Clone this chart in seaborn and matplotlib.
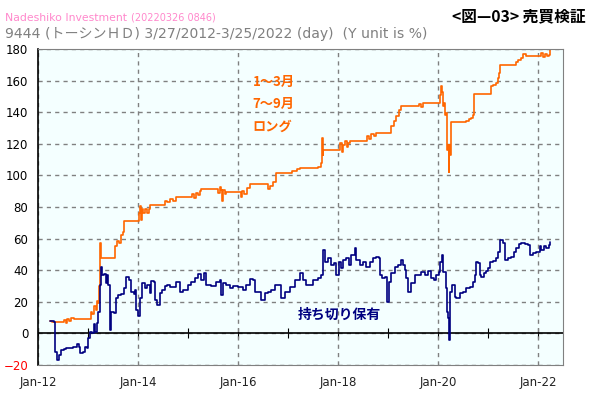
import seaborn as sns
import pandas as pd
import numpy as np
from matplotlib import pyplot as plt

# chart values (t = decimal year, v = %)
long_t = [2012.24, 2012.27, 2012.49, 2012.52, 2012.55, 2012.58, 2012.62, 2012.66, 2012.72, 2012.75,
          2013.00, 2013.05, 2013.08, 2013.12, 2013.15, 2013.18, 2013.20, 2013.22, 2013.23, 2013.24,
          2013.25, 2013.50, 2013.54, 2013.58, 2013.62, 2013.65, 2013.70, 2013.72, 2013.99, 2014.02,
          2014.04, 2014.05, 2014.07, 2014.10, 2014.13, 2014.17, 2014.22, 2014.24, 2014.50, 2014.53,
          2014.58, 2014.64, 2014.70, 2014.75, 2015.04, 2015.08, 2015.12, 2015.15, 2015.19, 2015.23,
          2015.26, 2015.56, 2015.60, 2015.63, 2015.66, 2015.67, 2015.70, 2015.73, 2015.76, 2016.01,
          2016.05, 2016.08, 2016.12, 2016.17, 2016.23, 2016.56, 2016.60, 2016.64, 2016.70, 2016.76,
          2017.03, 2017.08, 2017.13, 2017.18, 2017.24, 2017.56, 2017.60, 2017.65, 2017.68, 2017.69,
          2017.70, 2018.01, 2018.04, 2018.07, 2018.10, 2018.13, 2018.17, 2018.20, 2018.24, 2018.53,
          2018.58, 2018.62, 2018.66, 2018.71, 2018.76, 2019.01, 2019.06, 2019.11, 2019.16, 2019.21,
          2019.26, 2019.56, 2019.61, 2019.66, 2019.70, 2019.75, 2020.03, 2020.04, 2020.06, 2020.07,
          2020.09, 2020.11, 2020.13, 2020.15, 2020.17, 2020.18, 2020.20, 2020.21, 2020.22, 2020.23,
          2020.25, 2020.51, 2020.56, 2020.61, 2020.66, 2020.69, 2020.71, 2021.01, 2021.05, 2021.10,
          2021.15, 2021.19, 2021.22, 2021.24, 2021.51, 2021.55, 2021.60, 2021.65, 2021.70, 2021.76,
          2022.01, 2022.05, 2022.09, 2022.13, 2022.17, 2022.21, 2022.24]
long_v = [7.8, 7.0, 7.0, 8.5, 6.5, 9.0, 8.0, 9.5, 9.0, 9.0,
          9.0, 13.5, 12.0, 17.5, 15.0, 20.5, 19.0, 30.0, 41.0, 57.5,
          47.5, 47.5, 55.0, 58.5, 57.5, 62.0, 64.0, 71.0, 71.0, 76.0,
          80.5, 72.0, 79.0, 76.0, 78.5, 76.0, 79.0, 81.5, 81.5, 84.0,
          83.0, 85.0, 84.0, 86.5, 86.5, 88.5, 85.5, 89.0, 87.5, 90.0,
          91.4, 91.4, 89.0, 92.5, 91.0, 83.5, 90.5, 88.0, 89.7, 89.7,
          86.5, 90.0, 88.0, 92.0, 94.3, 94.3, 91.4, 93.0, 96.0, 101.3,
          101.3, 102.5, 103.0, 104.0, 104.5, 104.5, 105.5, 107.6, 123.5, 113.0,
          115.8, 115.8, 120.3, 115.0, 119.5, 121.5, 118.0, 120.5, 121.9, 121.9,
          125.0, 123.0, 126.5, 125.0, 127.0, 127.0, 131.1, 134.3, 137.5, 141.6,
          144.1, 144.1, 145.5, 143.0, 146.0, 145.8, 145.8, 151.1, 156.3, 153.0,
          143.7, 146.0, 138.4, 139.5, 131.0, 116.3, 119.0, 102.3, 119.2, 112.9,
          133.6, 133.6, 134.5, 135.5, 136.5, 138.2, 151.3, 151.3, 156.3, 157.0,
          158.3, 161.5, 164.6, 169.9, 169.9, 172.0, 173.0, 174.1, 176.6, 175.8,
          175.8, 177.5, 175.0, 177.0, 175.5, 176.5, 179.5]

hold_t = [2012.24, 2012.31, 2012.33, 2012.37, 2012.41, 2012.46, 2012.51, 2012.56, 2012.63, 2012.69,
          2012.77, 2012.81, 2012.84, 2012.89, 2012.93, 2012.97, 2013.00, 2013.03, 2013.08, 2013.11,
          2013.13, 2013.17, 2013.20, 2013.23, 2013.25, 2013.27, 2013.31, 2013.35, 2013.37, 2013.40,
          2013.43, 2013.46, 2013.51, 2013.55, 2013.59, 2013.66, 2013.71, 2013.76, 2013.81, 2013.86,
          2013.91, 2013.93, 2013.96, 2013.99, 2014.03, 2014.08, 2014.13, 2014.17, 2014.23, 2014.26,
          2014.31, 2014.34, 2014.38, 2014.43, 2014.48, 2014.53, 2014.58, 2014.63, 2014.66, 2014.76,
          2014.83, 2014.89, 2014.99, 2015.06, 2015.13, 2015.19, 2015.25, 2015.31, 2015.36, 2015.46,
          2015.56, 2015.63, 2015.66, 2015.69, 2015.76, 2015.83, 2015.89, 2015.99, 2016.09, 2016.16,
          2016.23, 2016.29, 2016.33, 2016.39, 2016.46, 2016.53, 2016.59, 2016.66, 2016.73, 2016.79,
          2016.86, 2016.93, 2017.03, 2017.13, 2017.23, 2017.29, 2017.35, 2017.43, 2017.49, 2017.59,
          2017.66, 2017.69, 2017.73, 2017.79, 2017.86, 2017.91, 2017.96, 2018.01, 2018.06, 2018.09,
          2018.16, 2018.21, 2018.26, 2018.33, 2018.36, 2018.43, 2018.49, 2018.56, 2018.63, 2018.69,
          2018.76, 2018.81, 2018.83, 2018.88, 2018.93, 2018.97, 2019.01, 2019.06, 2019.13, 2019.19,
          2019.26, 2019.29, 2019.33, 2019.36, 2019.39, 2019.46, 2019.53, 2019.59, 2019.66, 2019.73,
          2019.79, 2019.86, 2019.91, 2019.96, 2020.01, 2020.04, 2020.07, 2020.09, 2020.13, 2020.16,
          2020.18, 2020.20, 2020.21, 2020.23, 2020.24, 2020.27, 2020.29, 2020.33, 2020.36, 2020.43,
          2020.49, 2020.56, 2020.63, 2020.69, 2020.73, 2020.76, 2020.79, 2020.83, 2020.86, 2020.91,
          2020.95, 2020.99, 2021.03, 2021.09, 2021.16, 2021.19, 2021.24, 2021.29, 2021.33, 2021.39,
          2021.46, 2021.51, 2021.56, 2021.61, 2021.66, 2021.73, 2021.79, 2021.84, 2021.89, 2021.96,
          2022.03, 2022.06, 2022.11, 2022.16, 2022.21, 2022.24]
hold_v = [7.8, 7.4, -11.6, -16.8, -13.7, -10.5, -9.9, -9.4, -9.0, -8.4,
          -6.7, -8.4, -12.6, -11.6, -8.4, -9.4, -2.7, 0.7, 0.0, 5.7,
          0.7, 6.4, 13.8, 30.6, 42.2, 37.0, 37.4, 31.7, 37.0, 30.6,
          2.2, 13.8, 12.7, 22.2, 24.3, 24.7, 28.5, 35.9, 33.8, 26.0,
          24.7, 27.5, 14.8, 11.3, 22.2, 31.7, 28.5, 30.6, 25.3, 33.2,
          32.7, 21.1, 18.0, 25.3, 27.5, 30.2, 30.6, 29.5, 29.5, 32.7,
          26.4, 27.5, 30.6, 32.7, 34.9, 37.4, 33.8, 38.0, 30.6, 30.2,
          32.7, 33.8, 24.3, 31.7, 30.6, 28.5, 30.2, 29.5, 27.5, 30.6,
          34.2, 33.8, 26.4, 26.0, 21.1, 25.3, 26.4, 27.5, 30.6, 30.6,
          22.2, 26.4, 29.5, 33.8, 38.0, 33.8, 30.6, 30.6, 33.8, 35.3,
          37.0, 52.8, 45.4, 47.5, 43.3, 44.3, 37.0, 45.4, 41.6, 46.4,
          47.5, 43.3, 49.6, 53.8, 46.4, 43.3, 45.4, 42.2, 45.4, 47.5,
          48.5, 47.5, 37.0, 34.9, 36.0, 20.1, 32.7, 38.0, 42.2, 43.3,
          46.4, 43.3, 40.1, 34.9, 26.4, 31.7, 37.0, 37.0, 39.1, 37.0,
          39.5, 34.9, 33.8, 37.0, 39.1, 45.4, 49.6, 39.1, 39.1, 28.5,
          13.8, 9.5, -4.2, 9.5, 26.4, 30.6, 30.6, 23.2, 22.2, 25.3,
          26.4, 28.5, 29.5, 32.7, 37.0, 45.4, 44.3, 37.0, 36.0, 38.0,
          39.5, 41.2, 45.4, 45.8, 47.5, 51.7, 59.1, 57.0, 46.4, 47.5,
          48.5, 51.7, 54.2, 56.4, 57.0, 56.4, 56.0, 49.6, 50.6, 51.7,
          55.0, 52.7, 55.0, 53.8, 56.0, 57.6]

x_ticks = [2012, 2014, 2016, 2018, 2020, 2022]
x_labels = ["Jan-12", "Jan-14", "Jan-16", "Jan-18", "Jan-20", "Jan-22"]
y_ticks = [-20, 0, 20, 40, 60, 80, 100, 120, 140, 160, 180]

df = pd.concat([
    pd.DataFrame({"t": long_t, "v": long_v, "s": "long"}),
    pd.DataFrame({"t": hold_t, "v": hold_v, "s": "hold"}),
])

sns.set_style("white")
plt.rcParams['font.family'] = ['DejaVu Sans', 'Noto Sans CJK JP']
jp = ['Noto Sans CJK JP', 'DejaVu Sans']

fig = plt.figure(figsize=(5.9, 3.96), dpi=100)
ax = fig.add_axes([38 / 590, 31 / 396, 525 / 590, 316 / 396])
ax.set_facecolor("#F4FFFF")

sns.lineplot(data=df, x="t", y="v", hue="s", palette={"long": "#FF6600", "hold": "#000080"},
             drawstyle="steps-post", linewidth=1.2, legend=False, ax=ax, estimator=None, sort=False)

ax.set_xlim(2012, 2022.5)
ax.set_ylim(-20, 180)
ax.set_xticks(x_ticks)
ax.set_xticklabels(x_labels)
ax.set_yticks(y_ticks)
ax.set_yticks(np.arange(-20, 181, 4), minor=True)
ax.set_xlabel("")
ax.set_ylabel("")
ax.grid(True, which="major", color="#808080", linestyle=(0, (3, 3)), linewidth=1)
ax.tick_params(axis="x", length=0, labelsize=8.5, pad=8, colors="#222222")
ax.tick_params(axis="y", which="major", length=5, labelsize=8.5, pad=2, colors="black")
ax.tick_params(axis="y", which="minor", length=3, colors="black")
for lab in ax.get_yticklabels():
    if lab.get_text().startswith("-") or lab.get_text().startswith("\u2212"):
        lab.set_color("red")
for side in ["top", "right", "bottom"]:
    ax.spines[side].set_color("#808080")
ax.spines["left"].set_color("black")
ax.spines["left"].set_linewidth(1.2)

# zero line with yearly ticks
ax.axhline(0, color="black", linewidth=1.2, zorder=1)
zero_axis = ax.secondary_xaxis(0.1)
zero_axis.set_xticks(range(2012, 2023))
zero_axis.tick_params(direction="inout", length=7, labelbottom=False, color="black")
zero_axis.spines["bottom"].set_visible(False)

fig.text(0.008, 0.955, "Nadeshiko Investment", color="#FF88CC", fontsize=7.8, va="center")
fig.text(0.222, 0.955, "(20220326 0846)", color="#FF88CC", fontsize=7, va="center")
fig.text(0.008, 0.915, "9444 (トーシンＨＤ) 3/27/2012-3/25/2022 (day)  (Y unit is %)",
         color="#808080", fontsize=10.1, va="center")
fig.text(0.992, 0.958, "<図—03> 売買検証", color="black", fontsize=11.3, fontweight="bold",
         ha="right", va="center", family=jp)

ax.text(0.409, 0.918, "1～3月\n7～9月\nロング", transform=ax.transAxes, color="#FF6600",
        fontsize=9.5, fontweight="bold", va="top", linespacing=1.75, family=jp)
ax.text(0.494, 0.159, "持ち切り保有", transform=ax.transAxes, color="#000080",
        fontsize=10, fontweight="bold", va="center", family=jp)

fig.savefig("out.png", dpi=100, facecolor="white")
